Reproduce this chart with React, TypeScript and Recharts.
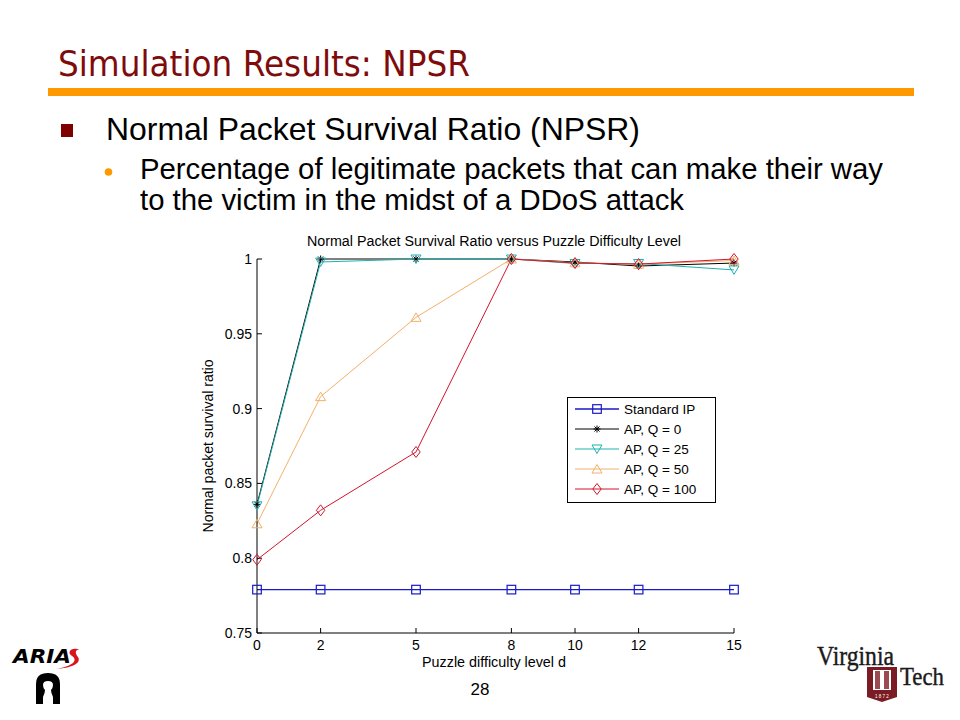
import React from 'react';
import { LineChart, Line, XAxis, YAxis, Legend } from 'recharts';

// ---- data ----
const difficulty = [0, 2, 5, 8, 10, 12, 15];
const standardIP = [0.779, 0.779, 0.779, 0.779, 0.779, 0.779, 0.779];
const apQ0 = [0.836, 1.0, 1.0, 1.0, 0.998, 0.9953, 0.9973];
const apQ25 = [0.835, 0.998, 1.0, 1.0, 0.997, 0.997, 0.9927];
const apQ50 = [0.823, 0.908, 0.961, 1.0, 0.9975, 0.9965, 0.999];
const apQ100 = [0.799, 0.832, 0.871, 1.0, 0.9973, 0.9966, 1.0];

const xTicks = [0, 2, 5, 8, 10, 12, 15];
const yTicks = [0.75, 0.8, 0.85, 0.9, 0.95, 1];
const seriesNames = ['Standard IP', 'AP, Q = 0', 'AP, Q = 25', 'AP, Q = 50', 'AP, Q = 100'];

const chartTitle = 'Normal Packet Survival Ratio versus Puzzle Difficulty Level';
const xLabel = 'Puzzle difficulty level d';
const yLabel = 'Normal packet survival ratio';

const data = difficulty.map((d, i) => ({
  d,
  s0: standardIP[i],
  s1: apQ0[i],
  s2: apQ25[i],
  s3: apQ50[i],
  s4: apQ100[i],
}));

type MarkerKind = 'square' | 'star' | 'tdown' | 'tup' | 'diamond';

const SERIES: { key: string; name: string; color: string; marker: MarkerKind; width: number }[] = [
  { key: 's0', name: seriesNames[0], color: '#1a1ac6', marker: 'square', width: 1.3 },
  { key: 's1', name: seriesNames[1], color: '#000000', marker: 'star', width: 1 },
  { key: 's2', name: seriesNames[2], color: '#1fb0b0', marker: 'tdown', width: 1 },
  { key: 's3', name: seriesNames[3], color: '#f2b06c', marker: 'tup', width: 1 },
  { key: 's4', name: seriesNames[4], color: '#d4142c', marker: 'diamond', width: 1 },
];

const FONT = '"Liberation Sans", Arial, Helvetica, sans-serif';
const SERIF = '"Liberation Serif", "DejaVu Serif", serif';

function Marker({ kind, cx, cy, color }: { kind: MarkerKind; cx: number; cy: number; color: string }) {
  if (cx == null || cy == null || isNaN(cx) || isNaN(cy)) return <g />;
  switch (kind) {
    case 'square':
      return <rect x={cx - 4.3} y={cy - 4.3} width={8.6} height={8.6} fill="none" stroke={color} strokeWidth={1.2} />;
    case 'star':
      return (
        <g stroke={color} strokeWidth={1}>
          <line x1={cx - 3.5} y1={cy} x2={cx + 3.5} y2={cy} />
          <line x1={cx} y1={cy - 3.5} x2={cx} y2={cy + 3.5} />
          <line x1={cx - 2.5} y1={cy - 2.5} x2={cx + 2.5} y2={cy + 2.5} />
          <line x1={cx - 2.5} y1={cy + 2.5} x2={cx + 2.5} y2={cy - 2.5} />
        </g>
      );
    case 'tdown':
      return (
        <polygon
          points={`${cx - 5},${cy - 4} ${cx + 5},${cy - 4} ${cx},${cy + 4.5}`}
          fill="none"
          stroke={color}
          strokeWidth={1}
        />
      );
    case 'tup':
      return (
        <polygon
          points={`${cx - 5},${cy + 4} ${cx + 5},${cy + 4} ${cx},${cy - 4.5}`}
          fill="none"
          stroke={color}
          strokeWidth={1}
        />
      );
    case 'diamond':
    default:
      return (
        <polygon
          points={`${cx},${cy - 5.5} ${cx + 4.2},${cy} ${cx},${cy + 5.5} ${cx - 4.2},${cy}`}
          fill="none"
          stroke={color}
          strokeWidth={1}
        />
      );
  }
}

function LegendBox(props: any) {
  const raw: any[] = props.payload || [];
  const payload = [...raw].sort(
    (a, b) => SERIES.findIndex((q) => q.key === a.dataKey) - SERIES.findIndex((q) => q.key === b.dataKey)
  );
  const rowGap = 20;
  return (
    <svg width={149} height={106} style={{ display: 'block', fontFamily: FONT }}>
      <rect x={0.5} y={0.5} width={148} height={105} fill="#ffffff" stroke="#000000" strokeWidth={1} />
      {payload.map((entry: any, i: number) => {
        const s = SERIES.find((q) => q.key === entry.dataKey) || SERIES[i];
        const y = 12 + i * rowGap;
        return (
          <g key={s.key}>
            <line x1={8} y1={y} x2={52} y2={y} stroke={s.color} strokeWidth={s.width} />
            <Marker kind={s.marker} cx={30} cy={y} color={s.color} />
            <text x={57} y={y + 5} fontSize={13.5} fill="#000">
              {entry.value}
            </text>
          </g>
        );
      })}
    </svg>
  );
}

function Slide() {
  return (
    <svg width={960} height={720} style={{ position: 'absolute', left: 0, top: 0 }}>
      <rect x={0} y={0} width={960} height={720} fill="#ffffff" />
      {/* Title */}
      <text
        x={58}
        y={76}
        fontFamily='"DejaVu Sans", Tahoma, Verdana, sans-serif'
        fontSize={35}
        fill="#7f0c0c"
        textLength={412}
        lengthAdjust="spacingAndGlyphs"
      >
        Simulation Results: NPSR
      </text>
      <rect x={48} y={88} width={866} height={8} fill="#ff9900" />
      {/* bullets */}
      <rect x={61} y={124} width={12} height={13} fill="#800000" />
      <text x={106} y={140} fontFamily={FONT} fontSize={32} fill="#000" textLength={534} lengthAdjust="spacingAndGlyphs">
        Normal Packet Survival Ratio (NPSR)
      </text>
      <circle cx={108.5} cy={172} r={3.8} fill="#ff9900" />
      <text x={140} y={179} fontFamily={FONT} fontSize={29} fill="#000" textLength={743} lengthAdjust="spacingAndGlyphs">
        Percentage of legitimate packets that can make their way
      </text>
      <text x={140} y={210} fontFamily={FONT} fontSize={29} fill="#000" textLength={544} lengthAdjust="spacingAndGlyphs">
        to the victim in the midst of a DDoS attack
      </text>
      {/* chart titles */}
      <text x={494} y={246} textAnchor="middle" fontFamily={FONT} fontSize={14} fill="#000" textLength={374} lengthAdjust="spacingAndGlyphs">
        {chartTitle}
      </text>
      <text x={494} y={667} textAnchor="middle" fontFamily={FONT} fontSize={14} fill="#000" textLength={144} lengthAdjust="spacingAndGlyphs">
        {xLabel}
      </text>
      <text
        x={0}
        y={0}
        transform="translate(213,446) rotate(-90)"
        textAnchor="middle"
        fontFamily={FONT}
        fontSize={14.5}
        fill="#000"
        textLength={173}
        lengthAdjust="spacingAndGlyphs"
      >
        {yLabel}
      </text>
      {/* page number */}
      <text x={480} y={695} textAnchor="middle" fontFamily={FONT} fontSize={17} fill="#000">
        28
      </text>
      {/* ARIAS logo */}
      <text
        x={13}
        y={663}
        fontFamily='"DejaVu Sans", Arial, sans-serif'
        fontWeight="bold"
        fontStyle="italic"
        fontSize={19}
        fill="#000"
        textLength={58}
        lengthAdjust="spacingAndGlyphs"
      >
        ARIA
      </text>
      <path d="M80,650 C72,646 66,652 72,656 C78,660 74,666 56,669 C70,668 82,664 78,657 C74,652 76,649 80,650 Z" fill="#d8141c" />
      <path d="M36,704 L36,684 Q36,673 48,673 Q60,673 60,684 L60,704 L53,704 L53,697 Q51,693 51,690 Q53,688 53,685 Q53,681 48,681 Q43,681 43,685 Q43,688 45,690 Q45,693 43,697 L43,704 Z" fill="#000" />
      {/* Virginia Tech logo */}
      <text
        x={817}
        y={665}
        fontFamily={SERIF}
        fontSize={27}
        fill="#1a1a1a"
        stroke="#1a1a1a"
        strokeWidth={0.4}
        textLength={77}
        lengthAdjust="spacingAndGlyphs"
      >
        Virginia
      </text>
      <path d="M867,667 L897,667 L897,697 L882,702 L867,697 Z" fill="#7b1c24" />
      <rect x={873} y={670} width={18} height={20} fill="#ffffff" />
      <rect x={875} y={671} width={14} height={18} fill="#9a4a50" />
      <rect x={880} y={671} width={4} height={18} fill="#ffffff" />
      <text x={882} y={698} textAnchor="middle" fontSize={4.5} fill="#ffffff" fontFamily={FONT}>
        1 8 7 2
      </text>
      <text
        x={900}
        y={685}
        fontFamily={SERIF}
        fontSize={25}
        fill="#1a1a1a"
        stroke="#1a1a1a"
        strokeWidth={0.4}
        textLength={44}
        lengthAdjust="spacingAndGlyphs"
      >
        Tech
      </text>
    </svg>
  );
}

export default function App() {
  return (
    <div style={{ position: 'absolute', left: 0, top: 0, width: 960, height: 720, background: '#fff' }}>
      <Slide />
      <div style={{ position: 'absolute', left: 200, top: 230, width: 560, height: 450 }}>
        <LineChart
          width={560}
          height={450}
          data={data}
          margin={{ top: 29, right: 26, bottom: 17, left: 0 }}
          style={{ fontFamily: FONT }}
        >
          <XAxis
            dataKey="d"
            type="number"
            domain={[0, 15]}
            ticks={xTicks}
            interval={0}
            height={30}
            tickSize={-5}
            tickMargin={12}
            axisLine={{ stroke: '#000', strokeWidth: 1 }}
            tickLine={{ stroke: '#000' }}
            tick={{ fontSize: 14, fill: '#000', fontFamily: FONT }}
          />
          <XAxis
            xAxisId="top"
            orientation="top"
            type="number"
            domain={[0, 15]}
            ticks={xTicks}
            interval={0}
            allowDataOverflow
            height={0}
            tickSize={-5}
            tick={false}
            axisLine={{ stroke: '#000', strokeWidth: 1 }}
            tickLine={{ stroke: '#000' }}
          />
          <YAxis
            type="number"
            domain={[0.75, 1]}
            ticks={yTicks}
            interval={0}
            width={57}
            tickSize={-5}
            tickMargin={10}
            axisLine={{ stroke: '#000', strokeWidth: 1 }}
            tickLine={{ stroke: '#000' }}
            tick={{ fontSize: 14, fill: '#000', fontFamily: FONT }}
            tickFormatter={(v: number) => String(v)}
          />
          <YAxis
            yAxisId="right"
            orientation="right"
            type="number"
            domain={[0.75, 1]}
            ticks={yTicks}
            interval={0}
            allowDataOverflow
            width={0}
            tickSize={-5}
            tick={false}
            axisLine={{ stroke: '#000', strokeWidth: 1 }}
            tickLine={{ stroke: '#000' }}
          />
          {SERIES.map((s) => (
            <Line
              key={s.key}
              type="linear"
              dataKey={s.key}
              name={s.name}
              stroke={s.color}
              strokeWidth={s.width}
              isAnimationActive={false}
              activeDot={false}
              dot={(p: any) => (
                <Marker key={`${s.key}-${p.index}`} kind={s.marker} cx={p.cx} cy={p.cy} color={s.color} />
              )}
            />
          ))}
          <Legend
            layout="vertical"
            align="center"
            verticalAlign="middle"
            content={<LegendBox />}
            wrapperStyle={{ position: 'absolute', left: 367, top: 167, width: 149, height: 106 }}
          />
        </LineChart>
      </div>
    </div>
  );
}
